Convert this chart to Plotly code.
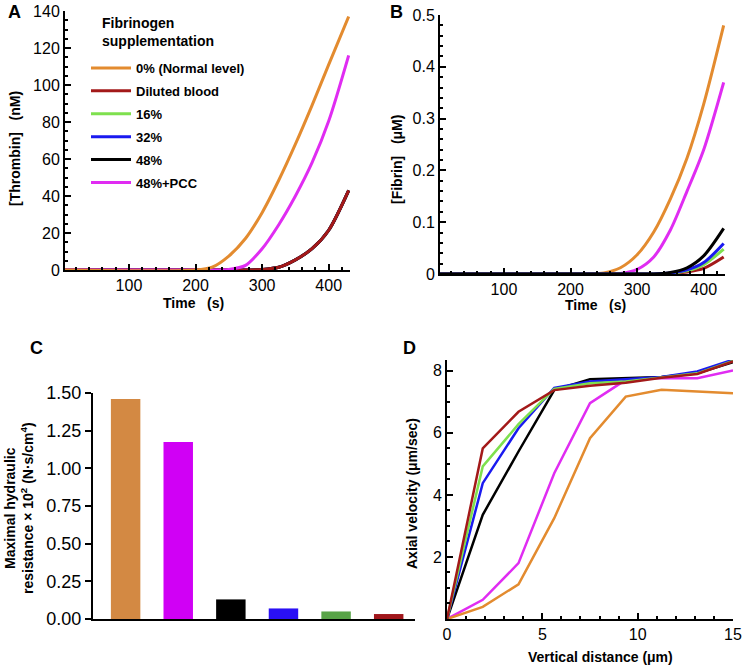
import plotly.graph_objects as go

W, H = 744, 665

# ---------------- data ----------------
series_names = ["0% (Normal level)", "Diluted blood", "16%", "32%", "48%", "48%+PCC"]
line_colors = ["#E38B2F", "#A31919", "#7EE04E", "#1A1AF0", "#000000", "#E02CF2"]
bar_colors = ["#D38943", "#D000F5", "#000000", "#2A10F5", "#58A347", "#A0161B"]

time_s = [0, 200, 225, 250, 275, 300, 325, 350, 375, 400, 430]

thrombin_normal = [0, 0, 1.5, 7.5, 17, 31, 48.5, 68, 89, 111, 137]
thrombin_diluted = [0, 0, 0, 0, 0, 0.3, 1.5, 5.5, 11.5, 21.5, 43]
thrombin_16 = [0, 0, 0, 0, 0, 0.3, 1.5, 5.5, 11.5, 21.5, 43]
thrombin_32 = [0, 0, 0, 0, 0, 0.3, 1.5, 5.5, 11.5, 21.5, 43]
thrombin_48 = [0, 0, 0, 0, 0, 0.3, 1.5, 5.5, 11.5, 21.5, 43]
thrombin_48pcc = [0, 0, 0, 0.3, 2.5, 11.5, 24.5, 40, 58, 80.5, 116]

fibrin_normal = [0, 0, 0.0002, 0.002, 0.012, 0.037, 0.081, 0.145, 0.224, 0.328, 0.48]
fibrin_diluted = [0, 0, 0, 0, 0, 0, 0, 0.001, 0.004, 0.011, 0.033]
fibrin_16 = [0, 0, 0, 0, 0, 0, 0, 0.0015, 0.006, 0.018, 0.048]
fibrin_32 = [0, 0, 0, 0, 0, 0, 0, 0.002, 0.008, 0.022, 0.059]
fibrin_48 = [0, 0, 0, 0, 0, 0, 0, 0.003, 0.012, 0.035, 0.088]
fibrin_48pcc = [0, 0, 0, 0, 0.001, 0.009, 0.033, 0.085, 0.16, 0.24, 0.37]

bar_categories = ["0% (Normal level)", "48%+PCC", "48%", "32%", "16%", "Diluted blood"]
resistance = [1.46, 1.175, 0.13, 0.07, 0.05, 0.033]

distance_um = [0, 1.875, 3.75, 5.625, 7.5, 9.375, 11.25, 13.125, 15]
vel_normal = [0, 0.39, 1.12, 3.25, 5.83, 7.17, 7.39, 7.34, 7.28]
vel_diluted = [0, 5.50, 6.68, 7.38, 7.52, 7.62, 7.78, 7.90, 8.30]
vel_16 = [0, 4.92, 6.28, 7.42, 7.60, 7.66, 7.79, 7.92, 8.32]
vel_32 = [0, 4.38, 6.15, 7.45, 7.66, 7.72, 7.80, 7.98, 8.36]
vel_48 = [0, 3.36, 5.40, 7.38, 7.73, 7.76, 7.80, 7.92, 8.28]
vel_48pcc = [0, 0.62, 1.80, 4.70, 6.96, 7.71, 7.77, 7.76, 8.01]

thrombin = [thrombin_normal, thrombin_diluted, thrombin_16, thrombin_32, thrombin_48, thrombin_48pcc]
fibrin = [fibrin_normal, fibrin_diluted, fibrin_16, fibrin_32, fibrin_48, fibrin_48pcc]
velocity = [vel_normal, vel_diluted, vel_16, vel_32, vel_48, vel_48pcc]

# drawing order (last on top) for each panel
order_A = [2, 3, 4, 1, 5, 0]
order_B = [0, 5, 1, 2, 3, 4]
order_D = [5, 0, 4, 3, 2, 1]

FONT = "Liberation Sans, Arial, Helvetica, sans-serif"


def px(x):
    return x / W


def py(y):
    return 1 - y / H


fig = go.Figure()

for i in order_A:
    fig.add_trace(go.Scatter(
        x=time_s, y=thrombin[i], mode="lines", name="<b>" + series_names[i] + "</b>",
        line=dict(color=line_colors[i], width=3, shape="spline", smoothing=0.8),
        legendgroup=series_names[i], legendrank=i + 1, showlegend=True,
        xaxis="x", yaxis="y"))

for i in order_B:
    fig.add_trace(go.Scatter(
        x=time_s, y=fibrin[i], mode="lines", name=series_names[i],
        line=dict(color=line_colors[i], width=3, shape="spline", smoothing=0.8),
        legendgroup=series_names[i], showlegend=False,
        xaxis="x2", yaxis="y2"))

fig.add_trace(go.Bar(
    x=bar_categories, y=resistance, marker=dict(color=bar_colors, line=dict(width=0)),
    width=0.56, showlegend=False, xaxis="x3", yaxis="y3"))

for i in order_D:
    fig.add_trace(go.Scatter(
        x=distance_um, y=velocity[i], mode="lines", name=series_names[i],
        line=dict(color=line_colors[i], width=2.5),
        legendgroup=series_names[i], showlegend=False,
        xaxis="x4", yaxis="y4"))

tickfont = dict(family=FONT, size=16, color="black")
axis_common = dict(showline=True, linecolor="black", linewidth=2, showgrid=False,
                   zeroline=False, ticks="inside", tickcolor="black", tickwidth=1.5,
                   ticklen=6, tickfont=tickfont, automargin=False)

fig.update_layout(
    template="none",
    width=W, height=H, autosize=False,
    margin=dict(l=0, r=0, t=0, b=0, pad=0),
    paper_bgcolor="white", plot_bgcolor="white",
    font=dict(family=FONT, color="black"),
    xaxis=dict(domain=[px(65), px(350)], range=[4, 432], anchor="y",
               tickvals=[100, 200, 300, 400],
               minor=dict(dtick=20, tick0=0, ticks="inside", ticklen=3, tickcolor="black"),
               **axis_common),
    yaxis=dict(domain=[py(270), py(11)], range=[0, 140], anchor="x",
               dtick=20, tick0=0,
               minor=dict(dtick=5, tick0=0, ticks="inside", ticklen=3, tickcolor="black"),
               **axis_common),
    xaxis2=dict(domain=[px(440), px(725)], range=[4, 432], anchor="y2",
                tickvals=[100, 200, 300, 400],
                minor=dict(dtick=20, tick0=0, ticks="inside", ticklen=3, tickcolor="black"),
                **axis_common),
    yaxis2=dict(domain=[py(274), py(15)], range=[0, 0.5], anchor="x2",
                tickvals=[0, 0.1, 0.2, 0.3, 0.4, 0.5],
                ticktext=["0", "0.1", "0.2", "0.3", "0.4", "0.5"],
                minor=dict(dtick=0.02, tick0=0, ticks="inside", ticklen=3, tickcolor="black"),
                **axis_common),
    xaxis3=dict(domain=[px(93), px(415)], range=[-0.62, 5.5], anchor="y3",
                type="category", showticklabels=False, ticks="", automargin=False,
                showline=True, linecolor="black", linewidth=2, showgrid=False, zeroline=False),
    yaxis3=dict(domain=[py(619), py(393)], range=[0, 1.5], anchor="x3",
                tickvals=[0, 0.25, 0.5, 0.75, 1.0, 1.25, 1.5],
                ticktext=["0.00", "0.25", "0.50", "0.75", "1.00", "1.25", "1.50"],
                showline=True, linecolor="black", linewidth=2, showgrid=False, zeroline=False,
                ticks="outside", ticklen=6, tickwidth=1.5, tickcolor="black", automargin=False,
                tickfont=dict(family=FONT, size=18, color="black")),
    xaxis4=dict(domain=[px(447), px(733)], range=[0, 15], anchor="y4",
                tickvals=[0, 5, 10, 15],
                minor=dict(dtick=1, tick0=0, ticks="inside", ticklen=3, tickcolor="black"),
                **axis_common),
    yaxis4=dict(domain=[py(619), py(360)], range=[0, 8.35], anchor="x4",
                tickvals=[2, 4, 6, 8],
                minor=dict(dtick=0.5, tick0=0, ticks="inside", ticklen=3, tickcolor="black"),
                **axis_common),
    legend=dict(x=px(86), y=py(53), xanchor="left", yanchor="top",
                bgcolor="rgba(0,0,0,0)", borderwidth=0,
                font=dict(family=FONT, size=13, color="black"),
                itemwidth=40, tracegroupgap=3, traceorder="grouped"),
)

annots = [
    # panel letters
    dict(text="<b>A</b>", x=px(14), y=py(12), size=18),
    dict(text="<b>B</b>", x=px(396), y=py(12), size=18),
    dict(text="<b>C</b>", x=px(36), y=py(348), size=18),
    dict(text="<b>D</b>", x=px(410), y=py(348), size=18),
    # axis titles
    dict(text="<b>Time\u00a0\u00a0\u00a0(s)</b>", x=px(193), y=py(303), size=14),
    dict(text="<b>[Thrombin]\u00a0\u00a0\u00a0(nM)</b>", x=px(15), y=py(149), size=14, angle=-90),
    dict(text="<b>Time\u00a0\u00a0\u00a0(s)</b>", x=px(595), y=py(305), size=14),
    dict(text="<b>[Fibrin]\u00a0\u00a0\u00a0(\u03bcM)</b>", x=px(397), y=py(160), size=14, angle=-90),
    dict(text="<b>Maximal hydraulic<br>resistance \u00d7 10<sup>2</sup> (N\u00b7s/cm<sup>4</sup>)</b>",
         x=px(19), y=py(508), size=14, angle=-90),
    dict(text="<b>Axial velocity (\u03bcm/sec)</b>", x=px(412), y=py(493), size=14, angle=-90),
    dict(text="<b>Vertical distance (\u03bcm)</b>", x=px(600), y=py(657), size=14),
]
for a in annots:
    fig.add_annotation(text=a["text"], x=a["x"], y=a["y"], xref="paper", yref="paper",
                       xanchor="center", yanchor="middle", showarrow=False,
                       textangle=a.get("angle", 0),
                       font=dict(family=FONT, size=a["size"], color="black"))

fig.add_annotation(text="<b>Fibrinogen<br>supplementation</b>", x=px(100), y=py(13),
                   xref="paper", yref="paper", xanchor="left", yanchor="top", align="left",
                   showarrow=False, font=dict(family=FONT, size=14, color="black"))

# remove the default 8px page margin so the figure sits at the page origin
fig.write_html("out.html",
               config={"displayModeBar": False},
               post_script="document.body.style.margin='0';document.body.style.padding='0';")
